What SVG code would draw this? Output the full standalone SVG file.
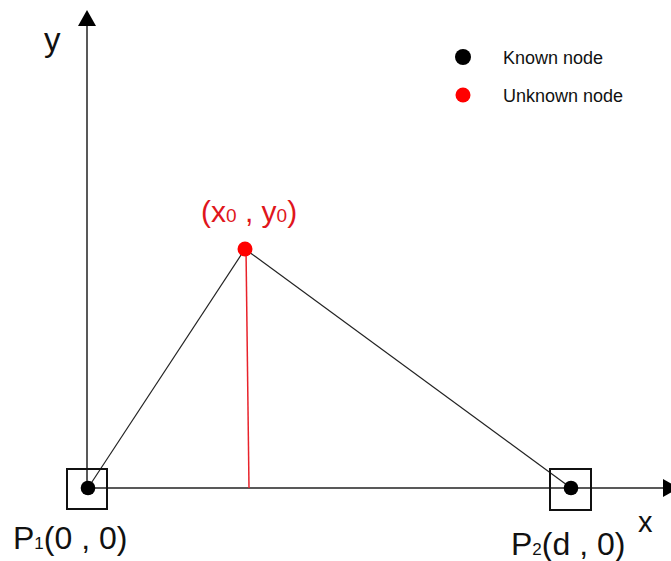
<svg xmlns="http://www.w3.org/2000/svg" width="671" height="561" viewBox="0 0 671 561">
<style>
.axis{stroke:#222;stroke-width:1.5;fill:none}
.edge{stroke:#222;stroke-width:1.2;fill:none}
.drop{stroke:#e8222a;stroke-width:1.5;fill:none}
.box{stroke:#111;stroke-width:2;fill:none}
.t{font-family:"Liberation Sans",Arial,sans-serif;fill:#111}
.r{fill:#e0161c}
</style>
<defs>
<marker id="arr" viewBox="0 0 16 18" refX="0" refY="9" markerWidth="16" markerHeight="18" markerUnits="userSpaceOnUse" orient="auto">
<path d="M0,0 L16,9 L0,18 Z" fill="#000"/>
</marker>
</defs>
<rect width="671" height="561" fill="#fff"/>
<g id="connectors">
<line class="axis" x1="87" y1="488" x2="87" y2="26" marker-end="url(#arr)"/>
<line class="axis" x1="87" y1="488" x2="663" y2="488" marker-end="url(#arr)"/>
<line class="edge" x1="88" y1="488" x2="245" y2="249"/>
<line class="edge" x1="245" y1="249" x2="571" y2="488"/>
<line class="drop" x1="246" y1="249" x2="249" y2="488"/>
</g>
<g id="axis-labels">
<text class="t" x="44" y="51" font-size="33">y</text>
<text class="t" x="638" y="532" font-size="29">x</text>
</g>
<g id="P1">
<rect class="box" x="67" y="469" width="40" height="40"/>
<circle cx="88" cy="488" r="7.3" fill="#000"/>
<text class="t" x="13" y="549" font-size="32">P<tspan font-size="17">1</tspan>(0 , 0)</text>
</g>
<g id="P2">
<rect class="box" x="550" y="469" width="41" height="41"/>
<circle cx="571" cy="488" r="7.3" fill="#000"/>
<text class="t" x="511" y="555" font-size="32">P<tspan font-size="17">2</tspan>(d , 0)</text>
</g>
<g id="unknown">
<circle cx="245" cy="249" r="7.5" fill="#f00"/>
<text class="t r" x="201" y="222" font-size="30">(x<tspan font-size="19">0</tspan> , y<tspan font-size="19">0</tspan>)</text>
</g>
<g id="legend">
<circle cx="463" cy="57" r="8" fill="#000"/>
<text class="t" x="503" y="64" font-size="18">Known node</text>
<circle cx="463" cy="95" r="7.5" fill="#f00"/>
<text class="t" x="503" y="101.5" font-size="18">Unknown node</text>
</g>
</svg>
